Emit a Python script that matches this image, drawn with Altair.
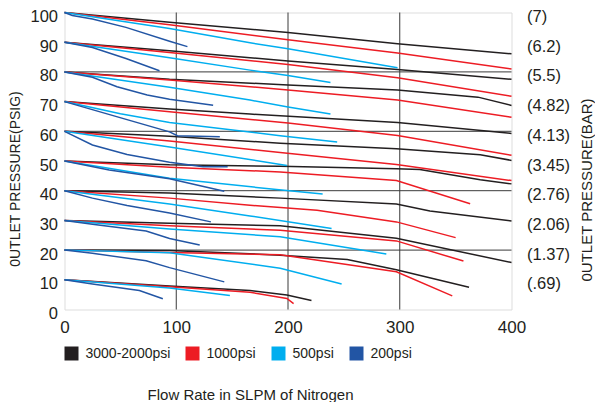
import altair as alt
import pandas as pd

FONT = "Liberation Sans"

SERIES = ["3000-2000psi", "1000psi", "500psi", "200psi"]
COLORS = ["#231f20", "#ed1c24", "#00aeef", "#2255a4"]

PSIG_TICKS = [0, 10, 20, 30, 40, 50, 60, 70, 80, 90, 100]
BAR_VALUES = [100, 90, 80, 70, 60, 50, 40, 30, 20, 10]
BAR_LABELS = ["(7)", "(6.2)", "(5.5)", "(4.82)", "(4.13)", "(3.45)", "(2.76)", "(2.06)", "(1.37)", "(.69)"]
FLOW_TICKS = [0, 100, 200, 300, 400]
GRID_FLOW = [100, 200, 300]
GRID_PSIG = [20, 40, 60, 80]

# 3000-2000psi (black), one curve per set pressure 100..10 psig
BLACK_X = [
    [0, 94, 200, 298, 400],
    [0, 94, 166, 200, 298, 400],
    [0, 94, 200, 298, 370, 400],
    [0, 94, 166, 298, 400],
    [0, 94, 193, 297, 372, 400],
    [0, 94, 193, 297, 318, 372, 400],
    [0, 94, 193, 297, 327, 400],
    [0, 94, 193, 297, 400],
    [0, 94, 193, 253, 297, 362],
    [0, 94, 166, 199, 221],
]
BLACK_Y = [
    [100, 96.7, 93.3, 89.5, 86.1],
    [90, 87.1, 84.8, 83.7, 80.8, 77.5],
    [80, 77.5, 75.6, 73.9, 71.5, 68.7],
    [70, 67.5, 65.8, 63.0, 59.3],
    [60, 58.3, 56.0, 54.1, 52.1, 50.2],
    [50, 48.7, 48.2, 47.4, 47.1, 43.7, 42.3],
    [40, 39.2, 37.5, 35.5, 33.2, 29.8],
    [30, 29.0, 28.2, 24.0, 15.8],
    [20, 19.9, 18.3, 16.8, 13.4, 7.5],
    [10, 7.9, 6.4, 4.9, 3.0],
]

# 1000psi (red)
RED_X = [
    [0, 94, 200, 298, 400],
    [0, 94, 200, 298, 400],
    [0, 94, 200, 298, 400],
    [0, 94, 200, 298, 400],
    [0, 94, 193, 297, 400],
    [0, 94, 193, 297, 363],
    [0, 94, 166, 226, 297, 350],
    [0, 94, 193, 297, 357],
    [0, 94, 193, 297, 347],
    [0, 94, 166, 199, 205],
]
RED_Y = [
    [100, 95.9, 90.8, 86.4, 81.0],
    [90, 86.5, 82.5, 78.0, 71.8],
    [80, 77.3, 73.9, 70.5, 64.7],
    [70, 66.6, 62.8, 58.6, 51.9],
    [60, 56.7, 52.9, 48.8, 43.4],
    [50, 47.9, 46.3, 43.4, 35.6],
    [40, 37.5, 35.1, 33.4, 29.5, 24.2],
    [30, 28.2, 26.7, 23.1, 16.3],
    [20, 19.2, 18.4, 12.7, 4.6],
    [10, 7.7, 5.8, 3.7, 2.0],
]

# 500psi (cyan)
CYAN_X = [
    [0, 94, 166, 200, 298],
    [0, 94, 166, 200, 238],
    [0, 94, 166, 200, 238],
    [0, 50, 94, 193, 244],
    [0, 94, 199],
    [0, 94, 192, 231],
    [0, 94, 166, 239],
    [0, 94, 193, 288],
    [0, 94, 193, 248],
    [0, 94, 148],
]
CYAN_Y = [
    [100, 94.6, 89.8, 87.8, 81.4],
    [90, 84.8, 80.6, 78.8, 76.4],
    [80, 74.8, 70.5, 68.2, 65.8],
    [70, 65.9, 63.0, 58.5, 56.4],
    [60, 54.7, 48.5],
    [50, 44.2, 40.3, 38.9],
    [40, 35.5, 31.5, 27.3],
    [30, 27.1, 24.5, 18.7],
    [20, 19.1, 13.9, 8.6],
    [10, 7.2, 4.7],
]

# 200psi (blue)
BLUE_X = [
    [0, 7, 25, 55, 94, 110],
    [0, 25, 55, 85],
    [0, 25, 47, 74, 94, 133],
    [0, 94, 101, 139],
    [0, 25, 56, 94, 124, 146],
    [0, 40, 94, 143],
    [0, 25, 56, 94, 131],
    [0, 25, 73, 94, 121],
    [0, 25, 73, 94, 143],
    [0, 25, 67, 88],
]
BLUE_Y = [
    [100, 99.0, 97.8, 95.0, 90.3, 88.5],
    [90, 88.2, 84.5, 80.4],
    [80, 78.2, 75.0, 72.2, 70.8, 68.8],
    [70, 59.8, 58.5, 58.2],
    [60, 55.4, 52.2, 49.6, 48.1, 48.1],
    [50, 47.0, 44.0, 39.8],
    [40, 37.5, 35.0, 32.5, 29.5],
    [30, 28.7, 26.4, 23.9, 21.7],
    [20, 18.9, 16.4, 14.1, 9.3],
    [10, 8.6, 6.4, 3.6],
]

rows = []
for name, xs_all, ys_all in zip(
    SERIES, [BLACK_X, RED_X, CYAN_X, BLUE_X], [BLACK_Y, RED_Y, CYAN_Y, BLUE_Y]
):
    for g, (xs, ys) in enumerate(zip(xs_all, ys_all)):
        for i, (x, y) in enumerate(zip(xs, ys)):
            rows.append({"series": name, "curve": f"{name}-{g}", "i": i, "flow": x, "psig": y})
df = pd.DataFrame(rows)

xscale = alt.Scale(domain=[0, 400], nice=False, zero=False)
yscale = alt.Scale(domain=[0, 100], nice=False, zero=False)

bar_expr = " : ".join(
    f"datum.value == {v} ? '{lab}'" for v, lab in zip(BAR_VALUES, BAR_LABELS)
) + " : ''"

x_axis = alt.Axis(
    values=FLOW_TICKS, grid=False, ticks=False, domain=False,
    labelFontSize=17, labelPadding=10, labelColor="#231f20",
    labelFont=FONT, labelFlush=False,
    title="Flow Rate in SLPM of Nitrogen", titleFont=FONT,
    titleFontSize=15, titleFontWeight="normal", titleColor="#231f20",
    titleX=185.5, titleY=85, titleAlign="center", titleBaseline="middle",
)

vgrid = alt.Chart(pd.DataFrame({"flow": GRID_FLOW})).mark_rule(
    color="#3a3a3a", strokeWidth=1
).encode(x=alt.X("flow:Q", scale=xscale, axis=x_axis))

hgrid = alt.Chart(pd.DataFrame({"psig": GRID_PSIG})).mark_rule(
    color="#3a3a3a", strokeWidth=1
).encode(y=alt.Y("psig:Q", scale=yscale, axis=None))

lines = alt.Chart(df).mark_line(strokeWidth=1.5).encode(
    x=alt.X("flow:Q", scale=xscale, axis=x_axis),
    y=alt.Y(
        "psig:Q",
        scale=yscale,
        axis=alt.Axis(
            orient="left", values=PSIG_TICKS, grid=False, ticks=False, domain=False,
            labelFontSize=16.5, labelPadding=7, labelColor="#231f20", labelFont=FONT,
            labelFlush=False, labelOffset=4,
            title="0UTLET PRESSURE(PSIG)", titleFont=FONT, titleFontSize=14,
            titleFontWeight="normal", titleColor="#231f20",
            titleAngle=270, titleX=-49, titleY=166, titleAlign="center",
            titleBaseline="middle",
        ),
    ),
    color=alt.Color(
        "series:N",
        scale=alt.Scale(domain=SERIES, range=COLORS),
        legend=alt.Legend(
            title=None, orient="none", legendX=0, legendY=334,
            direction="horizontal", columns=4, symbolType="square",
            symbolSize=16, symbolStrokeWidth=10, symbolOpacity=1,
            labelFontSize=14, labelFont=FONT, labelColor="#231f20",
            labelOffset=7, columnPadding=0, padding=0,
        ),
    ),
    detail="curve:N",
    order="i:Q",
)

right_axis = alt.Chart(pd.DataFrame({"bar": BAR_VALUES})).mark_point(opacity=0).encode(
    y=alt.Y(
        "bar:Q",
        scale=yscale,
        axis=alt.Axis(
            orient="right", values=BAR_VALUES, grid=False, ticks=False, domain=False,
            labelExpr=bar_expr, labelFontSize=16.5, labelPadding=15, labelColor="#231f20",
            labelFont=FONT, labelFlush=False, labelOffset=4,
            title="0UTLET PRESSURE(BAR)", titleFont=FONT, titleFontSize=15,
            titleFontWeight="normal", titleColor="#231f20",
            titleAngle=270, titleX=75, titleY=177, titleAlign="center",
            titleBaseline="middle",
        ),
    )
)

chart = (
    alt.layer(vgrid, hgrid, lines, right_axis)
    .resolve_axis(y="independent")
    .properties(
        width=447,
        height=297,
        autosize=alt.AutoSizeParams(type="none"),
        padding={"left": 56.5, "top": 4.5, "right": 83.5, "bottom": 92},
    )
    .configure_view(stroke="#6d6d6d", strokeWidth=1.2)
    .configure(background="white")
)

chart.save("out.html", embed_options={"renderer": "svg", "actions": False})
